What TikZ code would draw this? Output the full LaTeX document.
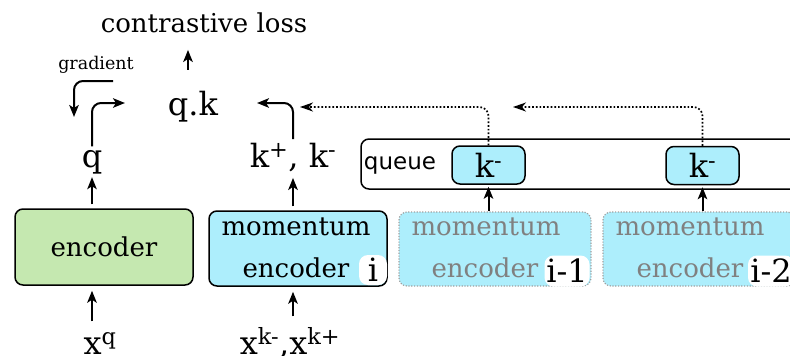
\documentclass[tikz,border=0pt]{standalone}
\usepackage{fontspec}
\setmainfont{DejaVu Serif}
\setsansfont{DejaVu Sans}
\usetikzlibrary{arrows.meta}
\definecolor{encgreen}{RGB}{197,232,176}
\definecolor{mcyan}{RGB}{173,238,252}
\definecolor{txtgray}{RGB}{128,128,128}
\definecolor{dotgray}{RGB}{160,160,160}
\begin{document}
\begin{tikzpicture}[x=1pt,y=-1pt,
  arr/.style={-{Stealth[length=12pt,width=9.5pt,inset=3pt]}, line width=2pt},
  darr/.style={-{Stealth[length=13pt,width=9pt,inset=4pt]}, line width=1.7pt, dash pattern=on 1.7pt off 2pt},
  bigtxt/.style={font=\fontsize{32}{38}\selectfont},
  midtxt/.style={font=\fontsize{26}{31}\selectfont},
  encbox/.style={draw, line width=1.5pt, rounded corners=8pt},
  ghostbox/.style={draw=dotgray, line width=1.2pt, dash pattern=on 1.2pt off 1.6pt, rounded corners=8pt, fill=mcyan},
  kbox/.style={draw, line width=1.5pt, rounded corners=8pt, fill=mcyan, minimum width=73pt, minimum height=38pt, inner sep=0pt, font=\fontsize{32}{38}\selectfont},
  idx/.style={fill=white, rounded corners=9pt, inner sep=0pt, font=\fontsize{32}{38}\selectfont},
]
\useasboundingbox (0,0) rectangle (790,356);
\clip (0,0) rectangle (790,356);

% top texts
\node[midtxt, anchor=base] (loss) at (204,32) {contrastive loss};
\node[font=\fontsize{17.5}{21}\selectfont, anchor=base] (grad) at (96,69) {gradient};
\node[bigtxt] (qk) at (193,107) {q.k};
\node[bigtxt, anchor=base] (q) at (92,167) {q};
\node[bigtxt, anchor=base] (kk) at (293,167) {k\textsuperscript{+}, k\textsuperscript{-}};

% encoder
\node[encbox, fill=encgreen, minimum width=178pt, minimum height=76pt, midtxt] (enc) at (104,247) {encoder};

% momentum encoder i
\node[encbox, fill=mcyan, minimum width=178pt, minimum height=75pt] (menc) at (298,248.5) {};
\node[midtxt, anchor=base] (mtxt) at (296,235) {momentum};
\node[midtxt, anchor=base] (etxt) at (296,277) {encoder};
\node[idx, minimum width=28pt, minimum height=30pt] (li) at (373,270) {i};

% ghost encoders
\node[ghostbox, minimum width=192pt, minimum height=74pt] (m1) at (495,249) {};
\node[midtxt, anchor=base, text=txtgray] (m1a) at (486,235) {momentum};
\node[midtxt, anchor=base, text=txtgray] (m1b) at (485,277) {encoder};
\node[idx, minimum width=45pt, minimum height=31pt] (l1) at (567,271) {i-1};

\node[ghostbox, minimum width=192pt, minimum height=74pt] (m2) at (699,249) {};
\node[midtxt, anchor=base, text=txtgray] (m2a) at (690,235) {momentum};
\node[midtxt, anchor=base, text=txtgray] (m2b) at (690,277) {encoder};
\node[idx, minimum width=46pt, minimum height=31pt] (l2) at (771,271) {i-2};

% queue
\node[encbox, minimum width=500pt, minimum height=50pt] (queue) at (611,164) {};
\node[font=\sffamily\fontsize{23}{28}\selectfont, anchor=base] (qlabel) at (400,169) {queue};
\node[kbox] (k1) at (488.5,165) {k\textsuperscript{-}};
\node[kbox] (k2) at (702.5,165.5) {k\textsuperscript{-}};

% inputs
\node[bigtxt, anchor=base] (xq) at (100,354) {x\textsuperscript{q}};
\node[bigtxt, anchor=base] (xk) at (290,354) {x\textsuperscript{k-},x\textsuperscript{k+}};

% arrow end coordinates
\coordinate (g1) at (113,81);
\coordinate (g2) at (74,117);
\coordinate (qin) at (125,103);
\coordinate (kin) at (257,103);
\coordinate (d1) at (300,107);
\coordinate (d2) at (513,107);

% arrows
\draw[arr, shorten <=18pt, shorten >=14pt] ([xshift=-5pt]qk.north) -- ([xshift=-5pt]qk.north |- loss.south);
\draw[arr, rounded corners=9pt] (g1) -| (g2);
\draw[arr, rounded corners=9pt] (q.north) |- (qin);
\draw[arr, rounded corners=9pt] (kk.north) |- (kin);
\draw[darr, rounded corners=9pt] (k1.north) |- (d1);
\draw[darr, rounded corners=9pt] (k2.north) |- (d2);

\draw[arr, shorten <=4pt] (enc.north -| q) -- (q.south);
\draw[arr, shorten <=4pt, shorten >=3pt] (menc.north -| kk) -- (kk.south);
\draw[arr, shorten >=2pt] (m1.north -| k1) -- (k1.south);
\draw[arr, shorten >=2pt] (m2.north -| k2) -- (k2.south);
\draw[arr, shorten <=8pt, shorten >=5pt] (xq.north -| q) -- (enc.south -| q);
\draw[arr, shorten <=8pt, shorten >=5pt] (xk.north -| kk) -- (menc.south -| kk);
\end{tikzpicture}
\end{document}
